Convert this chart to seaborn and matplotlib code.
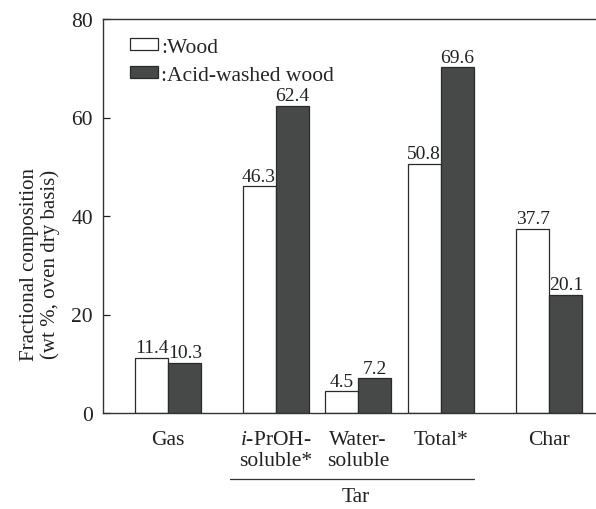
import matplotlib
matplotlib.use("Agg")
import matplotlib.pyplot as plt
import matplotlib.transforms as mtransforms
from matplotlib.patches import Patch
import seaborn as sns
import pandas as pd

# ---- data ----
categories = ["Gas", "i-PrOH-soluble*", "Water-soluble", "Total*", "Char"]
tick_labels = ["Gas", "$i$-PrOH-\nsoluble*", "Water-\nsoluble", "Total*", "Char"]
series = ["Wood", "Acid-washed wood"]
wood_values = [11.2, 46.0, 4.4, 50.6, 37.4]
acid_values = [10.2, 62.4, 7.1, 70.2, 24.0]
wood_labels = ["11.4", "46.3", "4.5", "50.8", "37.7"]
acid_labels = ["10.3", "62.4", "7.2", "69.6", "20.1"]

# ---- layout (category positions on the x axis) ----
group_pos = [0.0, 1.3, 2.3, 3.3, 4.62]

sns.set_theme(style="ticks")
plt.rcParams["font.family"] = ["Liberation Serif", "DejaVu Serif"]
plt.rcParams["mathtext.fontset"] = "custom"
plt.rcParams["mathtext.rm"] = "Liberation Serif"
plt.rcParams["mathtext.it"] = "Liberation Serif:italic"

df = pd.DataFrame({
    "pos": group_pos * 2,
    "value": wood_values + acid_values,
    "sample": [series[0]] * len(categories) + [series[1]] * len(categories),
})

fig = plt.figure(figsize=(5.96, 5.10), dpi=100)
ax = fig.add_axes([102.7 / 596, 1 - 414 / 510, 1 - 102.7 / 596, (414 - 20) / 510])

colors = ["white", "#474948"]
sns.barplot(data=df, x="pos", y="value", hue="sample", hue_order=series,
            native_scale=True, palette=colors, saturation=1,
            edgecolor="#2a2a2a", linewidth=0.9, legend=False, ax=ax)

for cont, labs in zip(ax.containers, [wood_labels, acid_labels]):
    ax.bar_label(cont, labels=labs, padding=1, fontsize=14, color="#222222")

ax.set_xlim(-0.795, 5.184)
ax.set_ylim(0, 80)
ax.set_yticks([0, 20, 40, 60, 80])
ax.tick_params(axis="y", direction="in", length=5, width=0.9, labelsize=15.5,
               pad=7, colors="#222222")
ax.set_xticks(group_pos)
ax.set_xticklabels(tick_labels, fontsize=15.5, color="#222222",
                   linespacing=1.2, va="top")
ax.tick_params(axis="x", length=0, pad=12)
ax.set_xlabel("")
ax.set_ylabel("Fractional composition\n(wt %, oven dry basis)", fontsize=15,
              color="#222222", linespacing=1.1)
ax.yaxis.set_label_coords(-0.087, 0.38)

for side in ["left", "top", "bottom"]:
    ax.spines[side].set_color("#333333")
    ax.spines[side].set_linewidth(1.0)
ax.spines["right"].set_visible(False)

# Tar bracket under the tar categories
trans = mtransforms.blended_transform_factory(ax.transData, ax.transAxes)
x0 = group_pos[1] - 0.55
x1 = group_pos[3] + 0.4
ax.plot([x0, x1], [-0.1675, -0.1675], transform=trans, clip_on=False,
        color="#333333", linewidth=0.9)
ax.text((x0 + x1) / 2 + 0.05, -0.213, "Tar", transform=trans, ha="center",
        va="center", fontsize=15.5, color="#222222")

handles = [Patch(facecolor=colors[0], edgecolor="#2a2a2a", linewidth=0.9),
           Patch(facecolor=colors[1], edgecolor="#2a2a2a", linewidth=0.9)]
ax.legend(handles, [":" + s for s in series], loc="upper left",
          bbox_to_anchor=(0.029, 0.985), frameon=False, fontsize=15.5,
          handlelength=1.3, handleheight=0.5, handletextpad=0.15,
          labelspacing=0.42, borderaxespad=0.2)

fig.savefig("out.png", dpi=100)
